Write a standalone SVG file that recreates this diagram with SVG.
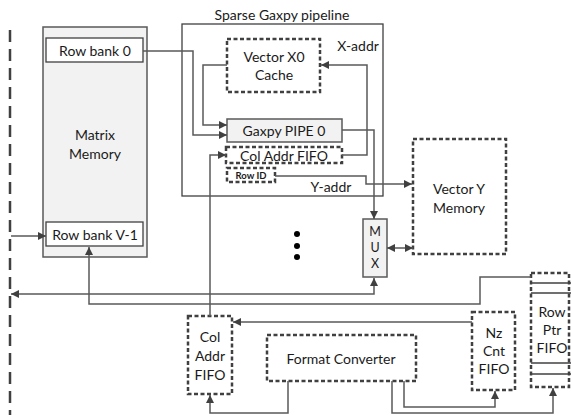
<svg xmlns="http://www.w3.org/2000/svg" width="571" height="415" viewBox="0 0 571 415">
<defs>
<style>
.t{font-family:Lato,"Liberation Sans",sans-serif;font-size:14px;fill:#1a1a1a;text-anchor:middle;dominant-baseline:central}
.m{font-size:12.5px}
.solid{fill:#f2f2f2;stroke:#595959;stroke-width:1.5}
.plain{fill:#fff;stroke:#404040;stroke-width:1.3}
.dash{fill:#fff;stroke:#404040;stroke-width:2.5;stroke-dasharray:4 2.5}
.c{fill:none;stroke:#595959;stroke-width:1.5}
</style>
<marker id="ah" viewBox="0 0 10 10" refX="10" refY="5" markerWidth="8" markerHeight="8" markerUnits="userSpaceOnUse" orient="auto-start-reverse">
<path d="M0,0 L10,5 L0,10 z" fill="#404040"/>
</marker>
</defs>
<rect width="571" height="415" fill="#fff"/>
<line x1="10" y1="30" x2="10" y2="415" stroke="#404040" stroke-width="2.5" stroke-dasharray="12 7"/>

<g id="pipeline">
<rect x="182" y="24" width="201" height="172" fill="none" stroke="#404040" stroke-width="1.3"/>
<text class="t" x="282" y="14">Sparse Gaxpy pipeline</text>
<text class="t" x="358" y="45">X-addr</text>
<text class="t" x="331" y="186">Y-addr</text>
</g>

<g id="matrix-memory">
<rect class="solid" x="43" y="27" width="104" height="230"/>
<text class="t" x="95" y="134">Matrix</text>
<text class="t" x="95" y="153">Memory</text>
</g>
<g id="row-bank-0">
<rect class="plain" x="46" y="38" width="97" height="24"/>
<text class="t" x="95" y="50">Row bank 0</text>
</g>
<g id="row-bank-v1">
<rect class="plain" x="46" y="222" width="97" height="24"/>
<text class="t" x="95" y="234">Row bank V-1</text>
</g>

<g id="vector-x0-cache">
<rect class="dash" x="227" y="39" width="93" height="53"/>
<text class="t" x="274" y="56">Vector X0</text>
<text class="t" x="274" y="74">Cache</text>
</g>
<g id="gaxpy-pipe-0">
<rect class="solid" x="227" y="119" width="115" height="23"/>
<text class="t" x="284" y="130">Gaxpy PIPE 0</text>
</g>
<g id="col-addr-fifo-pipe">
<rect class="dash" x="226" y="147" width="116" height="16"/>
<text class="t" x="284" y="155">Col Addr FIFO</text>
</g>
<g id="row-id">
<rect class="dash" x="227" y="168" width="48" height="14"/>
<text class="t" x="251" y="175" style="font-size:9.5px;font-weight:bold">Row ID</text>
</g>

<g id="vector-y-memory">
<rect class="dash" x="413" y="139" width="93" height="115"/>
<text class="t" x="459" y="188">Vector Y</text>
<text class="t" x="459" y="207">Memory</text>
</g>
<g id="mux">
<rect class="solid" x="363" y="219" width="24" height="58"/>
<text class="t m" x="375" y="231">M</text>
<text class="t m" x="375" y="247">U</text>
<text class="t m" x="375" y="263">X</text>
</g>
<g id="dots" fill="#000">
<circle cx="297" cy="234" r="3"/>
<circle cx="297" cy="246" r="3"/>
<circle cx="297" cy="257" r="3"/>
</g>

<g id="col-addr-fifo">
<rect class="dash" x="188" y="316" width="44" height="78"/>
<text class="t" x="210" y="336">Col</text>
<text class="t" x="210" y="355">Addr</text>
<text class="t" x="210" y="374">FIFO</text>
</g>
<g id="format-converter">
<rect class="dash" x="267" y="335" width="149" height="46"/>
<text class="t" x="341" y="358">Format Converter</text>
</g>
<g id="nz-cnt-fifo">
<rect class="dash" x="472" y="312" width="43" height="78"/>
<text class="t" x="494" y="332">Nz</text>
<text class="t" x="494" y="350">Cnt</text>
<text class="t" x="494" y="368">FIFO</text>
</g>
<g id="row-ptr-fifo">
<rect class="dash" x="531" y="273" width="38" height="114"/>
<line x1="531" y1="283" x2="571" y2="283" stroke="#404040" stroke-width="1.3"/>
<line x1="531" y1="293" x2="571" y2="293" stroke="#404040" stroke-width="1.3"/>
<line x1="531" y1="363" x2="571" y2="363" stroke="#404040" stroke-width="1.3"/>
<line x1="531" y1="374" x2="571" y2="374" stroke="#404040" stroke-width="1.3"/>
<text class="t" x="552" y="311">Row</text>
<text class="t" x="552" y="329">Ptr</text>
<text class="t" x="552" y="347">FIFO</text>
</g>

<g id="connectors">
<path class="c" d="M143,51 H193 V135 H227" marker-end="url(#ah)"/>
<path class="c" d="M227,65 H203 V125 H227" marker-end="url(#ah)"/>
<path class="c" d="M210,316 V155 H226" marker-end="url(#ah)"/>
<path class="c" d="M342,130 H374 V219" marker-end="url(#ah)"/>
<path class="c" d="M342,155 H367 V65 H321" marker-end="url(#ah)"/>
<path class="c" d="M275,176 H366 V184 H412" marker-end="url(#ah)"/>
<path class="c" d="M387,248 H413" marker-start="url(#ah)" marker-end="url(#ah)"/>
<path class="c" d="M374,278 V294 H11" marker-start="url(#ah)" marker-end="url(#ah)"/>
<path class="c" d="M531,277 H480 V304 H89 V247" marker-end="url(#ah)"/>
<path class="c" d="M11,236 H46" marker-end="url(#ah)"/>
<path class="c" d="M472,322 H233" marker-end="url(#ah)"/>
<path class="c" d="M288,381 V413 H210 V395" marker-end="url(#ah)"/>
<path class="c" d="M392,381 V413 H553 V388" marker-end="url(#ah)"/>
<path class="c" d="M404,381 V407 H495 V391" marker-end="url(#ah)"/>
</g>
</svg>
